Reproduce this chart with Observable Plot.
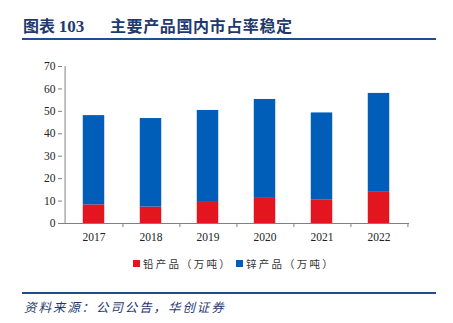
<!DOCTYPE html>
<html><head><meta charset="utf-8">
<script src="https://cdn.jsdelivr.net/npm/d3@7"></script>
<script src="https://cdn.jsdelivr.net/npm/@observablehq/plot@0.6"></script>
<style>
body{margin:0;background:#fff;width:453px;height:323px;position:relative;overflow:hidden;font-family:"Noto Sans CJK SC",sans-serif;}
#title{position:absolute;left:23px;top:13px;font-size:16px;font-weight:bold;color:#1f3a6e;white-space:nowrap;}
#title .num{font-family:"Liberation Serif",serif;font-size:17px;}
#title .main{position:absolute;left:87px;top:0;letter-spacing:0.6px;}
#topline{position:absolute;left:22px;top:38px;width:414px;height:2px;background:#1f4e8c;}
#chart{position:absolute;left:0;top:50px;}
#legend{position:absolute;top:256px;left:0;width:453px;font-size:10.5px;color:#333;white-space:nowrap;letter-spacing:2.2px;}
.li{position:absolute;top:0;display:flex;align-items:center;}
.sw{width:7px;height:7px;margin-right:3px;}
#botline{position:absolute;left:22px;top:292px;width:414px;height:2px;background:#1f4e8c;}
#source{position:absolute;left:24px;top:297px;font-size:12.5px;font-style:italic;color:#1f3a6e;white-space:nowrap;letter-spacing:1.9px;}
</style></head>
<body>
<div id="title">图表 <span class="num">103</span><span class="main">主要产品国内市占率稳定</span></div>
<div id="topline"></div>
<div id="chart"></div>
<div id="legend"></div>
<div id="botline"></div>
<div id="source">资料来源：公司公告，华创证券</div>
<script>
const years = ["2017", "2018", "2019", "2020", "2021", "2022"];
const lead = [8.3, 7.3, 9.4, 11.2, 10.4, 14.2];
const zinc = [39.8, 39.5, 41.0, 44.1, 38.9, 43.8];
const seriesNames = ["铅产品（万吨）", "锌产品（万吨）"];
const seriesColors = ["#e3151f", "#005eb8"];
const yTicks = [0, 10, 20, 30, 40, 50, 60, 70];

const data = years.flatMap((y, i) => [
  {year: y, series: seriesNames[0], value: lead[i]},
  {year: y, series: seriesNames[1], value: zinc[i]}
]);

const W = 453, ML = 62, MR = 44;
const bw = (W - ML - MR) / years.length;
const barW = 22.3;
const inset = (bw - barW) / 2;
const axisColor = "#808080";

const chart = Plot.plot({
  width: W, height: 196,
  marginLeft: ML, marginRight: MR, marginTop: 16, marginBottom: 23,
  style: {fontFamily: "'Liberation Serif', serif", fontSize: "11.5px", color: "#222", background: "transparent"},
  x: {type: "band", domain: years, padding: 0, label: null},
  y: {domain: [0, 70], label: null},
  color: {domain: seriesNames, range: seriesColors},
  marks: [
    Plot.barY(data, {x: "year", y: "value", fill: "series", insetLeft: inset, insetRight: inset, order: seriesNames}),
    Plot.axisY({ticks: yTicks, tickSize: 4, tickPadding: 3, stroke: axisColor, fill: "#222", fontSize: 11.5, fontFamily: "'Liberation Serif', serif", label: null}),
    Plot.axisX({tickSize: 0, tickPadding: 9, fill: "#222", fontSize: 11.5, fontFamily: "'Liberation Serif', serif", label: null}),
    Plot.ruleY([0], {stroke: axisColor}),
    Plot.ruleX([years[0]], {x: d => d, dx: -bw / 2, y1: 0, y2: 70, stroke: axisColor}),
    Plot.ruleX(years, {x: d => d, dx: bw / 2, y1: 0, y2: 0, insetBottom: -4, stroke: axisColor})
  ]
});
document.getElementById("chart").appendChild(chart);

const legend = document.getElementById("legend");
const legendLeft = [133, 236];
seriesNames.forEach((name, i) => {
  const item = document.createElement("div");
  item.className = "li";
  item.style.left = legendLeft[i] + "px";
  item.innerHTML = `<span class="sw" style="background:${seriesColors[i]}"></span><span>${name}</span>`;
  legend.appendChild(item);
});
</script>
</body></html>
